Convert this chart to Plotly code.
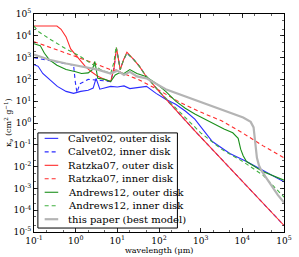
import numpy as np
import plotly.graph_objects as go

# ---- data (log10 wavelength [um], log10 kappa [cm^2/g]) ----
calvet_outer_loglam = [-1.0, -0.9, -0.79, -0.63, -0.44, -0.23, -0.05, 0.12, 0.30, 0.42, 0.49, 0.58, 0.70, 0.84,
                       1.0, 1.16, 1.30, 1.47, 1.67, 1.70, 1.93, 2.16, 2.40, 2.63, 2.86, 3.02, 3.28, 3.70, 4.10, 4.50, 5.0]
calvet_outer_logk = [2.68, 2.6, 2.27, 2.0, 1.68, 1.45, 1.36, 1.45, 1.5, 1.6, 2.05, 1.55, 1.6, 1.68,
                     1.65, 1.7, 1.58, 1.62, 1.66, 1.68, 1.36, 1.09, 0.86, 0.55, 0.18, -0.23, -0.85, -1.4, -1.77, -2.18, -2.7]

calvet_inner_loglam = [-1.0, -0.6, -0.2, -0.05, -0.01, 0.03, 0.1, 0.3, 0.6, 0.84, 0.92, 0.98, 1.02, 1.07, 1.15, 1.23,
                       1.40, 1.53, 1.67, 2.0, 2.86, 5.0]
calvet_inner_logk = [3.0, 2.85, 2.7, 2.65, 1.9, 1.4, 1.8, 2.0, 1.95, 1.9, 2.5, 3.4, 3.0, 2.45, 2.9, 3.2,
                     2.9, 2.6, 2.2, 1.45, -0.36, -4.7]

ratzka_outer_loglam = [-1.0, -0.45, -0.35, -0.23, -0.12, 0.07, 0.23, 0.37, 0.53, 0.70, 0.84, 0.92, 0.98, 1.02, 1.07,
                       1.15, 1.23, 1.40, 1.53, 1.67, 2.0, 2.86, 5.0]
ratzka_outer_logk = [4.45, 4.45, 4.3, 3.95, 3.4, 2.95, 2.6, 2.36, 2.14, 2.0, 1.9, 2.5, 3.45, 3.0, 2.45,
                     2.9, 3.25, 2.9, 2.6, 2.2, 1.45, -0.36, -4.7]

ratzka_inner_loglam = [-1.0, -0.5, 0.0, 0.5, 0.9, 1.0, 1.1, 1.5, 2.0, 2.5, 3.0, 3.5, 4.0, 4.5, 5.0]
ratzka_inner_logk = [3.73, 3.4, 3.05, 2.7, 2.4, 2.45, 2.3, 2.0, 1.5, 0.95, 0.5, 0.1, -0.45, -1.05, -1.6]

andrews_outer_loglam = [-1.0, -0.85, -0.75, -0.63, -0.45, -0.23, 0.0, 0.14, 0.3, 0.4, 0.46, 0.5, 0.53, 0.7, 0.84,
                        0.95, 1.05, 1.16, 1.30, 1.47, 1.67, 1.93, 2.16, 2.40, 2.63, 2.86, 3.09, 3.33, 3.56, 3.77,
                        3.90, 3.96, 4.02, 4.10, 4.49, 5.0]
andrews_outer_logk = [3.64, 3.55, 3.2, 2.9, 2.65, 2.45, 2.35, 2.27, 2.3, 2.45, 2.82, 2.3, 2.05, 2.0, 1.9,
                      2.2, 2.3, 2.27, 2.45, 2.27, 2.14, 1.82, 1.45, 1.0, 0.68, 0.41, 0.18, -0.05, -0.27, -0.45,
                      -0.7, -1.2, -1.5, -1.77, -2.23, -2.62]

andrews_inner_loglam = [-1.0, -0.9, -0.63, -0.23, 0.07, 0.37, 0.6, 0.84, 0.92, 0.97, 1.02, 1.07, 1.15, 1.23, 1.40,
                        1.53, 1.67, 2.0, 2.5, 3.0, 3.5, 4.0, 4.5, 5.0]
andrews_inner_logk = [4.45, 4.2, 3.86, 3.4, 3.1, 2.73, 2.45, 2.27, 2.8, 3.5, 3.0, 2.45, 2.9, 3.2, 2.9,
                      2.6, 2.2, 1.45, 0.5, -0.45, -1.2, -1.75, -2.4, -3.4]

paper_loglam = [-1.0, -0.63, -0.23, 0.14, 0.53, 0.84, 1.0, 1.16, 1.30, 1.47, 1.70, 2.16, 2.63, 3.09, 3.56, 4.02,
                4.2, 4.27, 4.31, 4.35, 4.40, 4.45, 4.55, 4.7, 4.85, 5.0]
paper_logk = [3.14, 2.9, 2.73, 2.6, 2.45, 2.27, 2.4, 2.2, 2.35, 2.14, 2.05, 1.55, 1.23, 0.91, 0.6, 0.25,
              0.05, -0.2, -0.9, -1.6, -1.95, -2.15, -2.45, -2.9, -3.3, -3.65]

series_names = ["Calvet02, outer disk", "Calvet02, inner disk", "Ratzka07, outer disk", "Ratzka07, inner disk",
                "Andrews12, outer disk", "Andrews12, inner disk", "this paper (best model)"]
series_x = [calvet_outer_loglam, calvet_inner_loglam, ratzka_outer_loglam, ratzka_inner_loglam,
            andrews_outer_loglam, andrews_inner_loglam, paper_loglam]
series_y = [calvet_outer_logk, calvet_inner_logk, ratzka_outer_logk, ratzka_inner_logk,
            andrews_outer_logk, andrews_inner_logk, paper_logk]

x_tick_exps = [-1, 0, 1, 2, 3, 4, 5]
y_tick_exps = [-5, -4, -3, -2, -1, 0, 1, 2, 3, 4, 5]

# ---- styles ----
colors = ["#2b2bff", "#2b2bff", "#ff2b2b", "#ff2b2b", "#1a8f1a", "#40b040", "#b4b4b4"]
dashes = ["solid", "4px,3px", "solid", "4px,3px", "solid", "4px,3px", "solid"]
widths = [1.1, 1.1, 1.1, 1.1, 1.1, 1.1, 2.2]

FONT = "DejaVu Serif"
W, H = 299, 257
ML, MR, MT, MB = 34, 7, 12, 25

fig = go.Figure()
for name, xs, ys, c, d, w in zip(series_names, series_x, series_y, colors, dashes, widths):
    fig.add_trace(go.Scatter(
        x=np.power(10.0, xs), y=np.power(10.0, ys), mode="lines", name=name,
        line=dict(color=c, dash=d, width=w), showlegend=False, hoverinfo="skip"))

def sup(e):
    return "10<sup>%d</sup>" % e

axis_common = dict(type="log", showgrid=False, zeroline=False, showline=True, linecolor="black", linewidth=1,
                   mirror="allticks", ticks="inside", ticklen=4, tickcolor="black", tickwidth=0.8,
                   minor=dict(ticks="inside", ticklen=2, tickcolor="black", tickwidth=0.6, showgrid=False),
                   tickfont=dict(family=FONT, size=9, color="black"), ticklabeloverflow="allow")

fig.update_xaxes(range=[-1, 5], tickvals=[10.0 ** e for e in x_tick_exps],
                 ticktext=[sup(e) for e in x_tick_exps], **axis_common)
fig.update_yaxes(range=[-5, 5], tickvals=[10.0 ** e for e in y_tick_exps],
                 ticktext=[sup(e) for e in y_tick_exps], **axis_common)

# ---- legend drawn as shapes + text ----
pw, ph = W - ML - MR, H - MT - MB
def px2x(p):
    return (p - ML) / pw
def px2y(p):
    return (H - MB - p) / ph

shapes = [dict(type="rect", xref="paper", yref="paper", x0=px2x(38), x1=px2x(182), y0=px2y(228), y1=px2y(132),
               line=dict(color="black", width=1), fillcolor="white", layer="above")]
annotations = []
row0, rowstep = 137.5, 13.6
for i, (name, c, d, w) in enumerate(zip(series_names, colors, dashes, widths)):
    yy = px2y(row0 + i * rowstep)
    shapes.append(dict(type="line", xref="paper", yref="paper", x0=px2x(45), x1=px2x(59), y0=yy, y1=yy,
                       line=dict(color=c, dash=d, width=w), layer="above"))
    annotations.append(dict(xref="paper", yref="paper", x=px2x(67), y=yy, text=name, showarrow=False,
                            xanchor="left", yanchor="middle", font=dict(family=FONT, size=10, color="black")))

annotations.append(dict(xref="paper", yref="paper", x=0.5, y=0, yshift=-18, text="wavelength (\u03bcm)",
                        showarrow=False, xanchor="center", yanchor="middle", font=dict(family=FONT, size=8, color="black")))
annotations.append(dict(xref="paper", yref="paper", x=0, y=0.5, xshift=-26, text="\u03ba<sub>\u03bd</sub> (cm<sup>2</sup> g<sup>\u22121</sup>)",
                        showarrow=False, xanchor="center", yanchor="middle", textangle=-90,
                        font=dict(family=FONT, size=8, color="black")))

fig.update_layout(width=W, height=H, margin=dict(l=ML, r=MR, t=MT, b=MB), plot_bgcolor="white",
                  paper_bgcolor="white", shapes=shapes, annotations=annotations, showlegend=False)

fig.write_html("out.html", config={"displayModeBar": False, "staticPlot": True},
               post_script="document.body.style.margin='0';document.body.style.padding='0';")
